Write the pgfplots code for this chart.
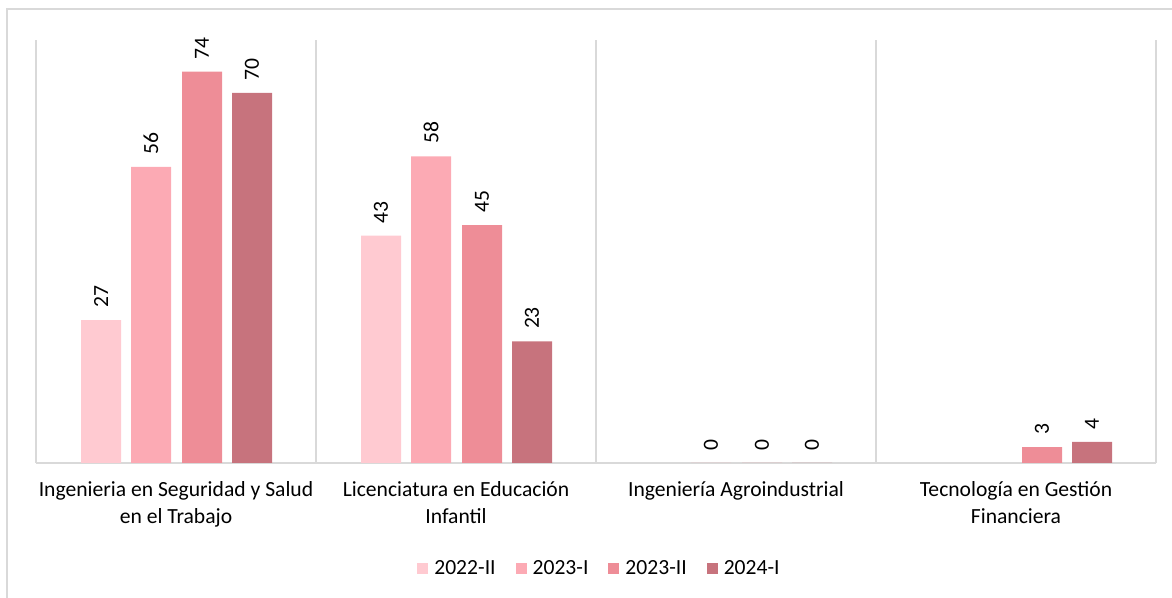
\documentclass[border=0pt]{standalone}
\usepackage{pgfplots}
\pgfplotsset{compat=1.18}
\usepackage{fontspec}
\setmainfont{Carlito}
\definecolor{cA}{HTML}{FFCAD1}
\definecolor{cB}{HTML}{FCAAB4}
\definecolor{cC}{HTML}{EE8D97}
\definecolor{cD}{HTML}{C7737D}
\definecolor{gridc}{HTML}{D9D9D9}
\begin{document}
\begin{tikzpicture}
\useasboundingbox (-18pt,-67.5pt) rectangle (568pt,231.5pt);
\draw[gridc, line width=1pt] (-14.5pt,-70pt) -- (-14.5pt,227pt) -- (570pt,227pt);
\begin{axis}[
  at={(0pt,0pt)}, anchor=south west,
  scale only axis, width=560pt, height=211.5pt,
  xmin=-0.5, xmax=3.5, ymin=0, ymax=80,
  axis y line=none, axis x line*=bottom,
  axis line style={gridc, line width=0.8pt},
  xtick={0,1,2,3},
  xticklabels={{Ingenieria en Seguridad y Salud\\en el Trabajo},{Licenciatura en Educación\\Infantil},{Ingeniería Agroindustrial},{Tecnología en Gestión\\Financiera}},
  xticklabel style={align=center, font=\fontsize{10.8}{13.5}\selectfont, yshift=-5.5pt},
  major tick length=0pt,
  minor xtick={-0.5,0.5,1.5,2.5,3.5},
  minor tick length=0pt,
  xminorgrids, minor grid style={gridc, line width=0.8pt},
  ytick=\empty,
  ybar, bar width=20pt,
  clip=false,
  nodes near coords,
  /pgf/number format/assume math mode=true,
  every node near coord/.append style={font=\fontsize{10.8}{12}\selectfont, rotate=90, anchor=west, inner xsep=6pt, black},
  legend style={at={(0.504,-0.25)}, anchor=center, draw=none, font=\fontsize{10.8}{12}\selectfont, legend columns=4, /tikz/every even column/.append style={column sep=8pt}, /tikz/every odd column/.append style={column sep=1pt}},
  legend image code/.code={\fill[#1] (0pt,-2.75pt) rectangle (5.5pt,2.75pt);},
]
\addplot[fill=cA, draw=none, bar shift=-37.5pt] coordinates {(0,27) (1,43)};
\addplot[fill=cB, draw=none, bar shift=-12.5pt] coordinates {(0,56) (1,58) (2,0)};
\addplot[fill=cC, draw=none, bar shift=13pt] coordinates {(0,74) (1,45) (2,0) (3,3)};
\addplot[fill=cD, draw=none, bar shift=38pt] coordinates {(0,70) (1,23) (2,0) (3,4)};
\legend{2022-II,2023-I,2023-II,2024-I}
\end{axis}
\end{tikzpicture}
\end{document}
